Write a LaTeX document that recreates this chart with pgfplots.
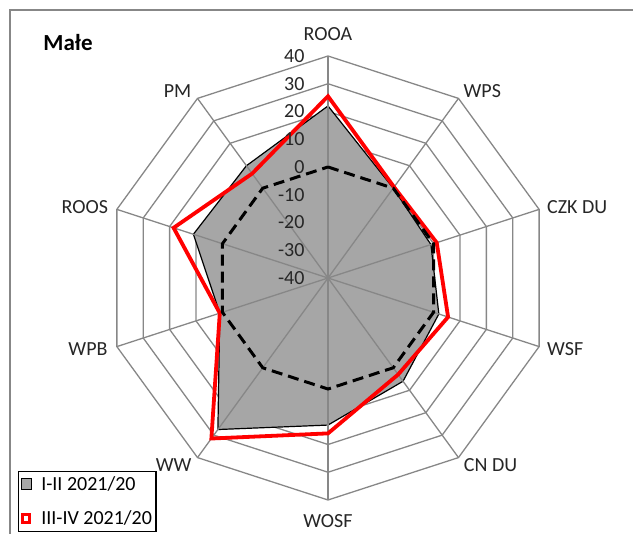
\documentclass[border=0pt]{standalone}
\usepackage{pgfplots}
\pgfplotsset{compat=1.18}
\usepackage{pgfplotstable}
\usepackage{fontspec}
\setmainfont{Carlito}
\definecolor{gridc}{HTML}{878787}
\definecolor{fillc}{HTML}{A6A6A6}
\definecolor{exred}{HTML}{FF0000}

% spoke angle, I-II 2021/20, III-IV 2021/20, reference line
\pgfplotstableread{
ang  g     r     z
90   22    25.5  0
54   0     0.5   0
18   -1    1.2   0
-18  2     5.5   0
-54  6     3     0
-90  13    16    0
-126 27.5  31.5  0
-162 1     1     0
162  11    18.5  0
126  10    6.5   0
}\radar

\begin{document}
\begin{tikzpicture}
\useasboundingbox (-328pt,-256pt) rectangle (305pt,278pt);
\clip (-328pt,-256pt) rectangle (305pt,278pt);
\draw[gridc, line width=1.3pt] (-318pt,-300pt) rectangle (400pt,268pt);
\begin{axis}[
  at={(0pt,0pt)}, anchor=center,
  x=2.775pt, y=2.775pt,
  xmin=-100, xmax=100, ymin=-100, ymax=100,
  hide axis, clip=false,
  font=\fontsize{20}{24}\selectfont,
  legend style={at={(axis description cs:-0.0585,0.1525)}, anchor=north west,
    draw=black, line width=1.3pt, fill=white, inner xsep=2pt, inner ysep=3pt,
    row sep=15pt, font=\fontsize{20}{24}\selectfont},
  legend cell align=left,
]
% rings
\pgfplotsinvokeforeach{10,20,30,40,50,60,70,80}{
  \draw[gridc, line width=1.3pt] (axis cs:{#1*cos(90)},{#1*sin(90)})
    \foreach \t in {54,18,-18,-54,-90,-126,-162,162,126} { -- (axis cs:{#1*cos(\t)},{#1*sin(\t)}) } -- cycle;
}
\addplot[fill=fillc, draw=black, line width=1.2pt,
  legend image code/.code={\draw[fill=fillc, draw=black, line width=1.2pt] (0pt,-5pt) rectangle (10pt,6pt);
    \path[draw=none, fill=none] (0pt,0pt) rectangle (18pt,0pt);}]
  table[x expr={(\thisrow{g}+40)*cos(\thisrow{ang})}, y expr={(\thisrow{g}+40)*sin(\thisrow{ang})}] {\radar} -- cycle;
\addlegendentry{I-II 2021/20}
% spokes
\pgfplotsinvokeforeach{90,54,18,-18,-54,-90,-126,-162,162,126}{
  \draw[gridc, line width=1.3pt] (axis cs:0,0) -- (axis cs:{80*cos(#1)},{80*sin(#1)});
}
\addplot[draw=exred, line width=3.8pt, line join=miter,
  legend image code/.code={\draw[fill=white, draw=exred, line width=3pt] (1.5pt,-3.5pt) rectangle (8.5pt,4.5pt);
    \path[draw=none, fill=none] (0pt,0pt) rectangle (18pt,0pt);}]
  table[x expr={(\thisrow{r}+40)*cos(\thisrow{ang})}, y expr={(\thisrow{r}+40)*sin(\thisrow{ang})}] {\radar} -- cycle;
\addlegendentry{III-IV 2021/20}
\addplot[draw=black, line width=3pt, dash pattern=on 11pt off 6pt, forget plot]
  table[x expr={(\thisrow{z}+40)*cos(\thisrow{ang})}, y expr={(\thisrow{z}+40)*sin(\thisrow{ang})}] {\radar} -- cycle;
% scale labels
\pgfplotsinvokeforeach{-40,-30,-20,-10,0,10,20,30,40}{
  \node[anchor=east, xshift=-20pt, text=black!85] at (axis cs:0,{#1+40}) {#1};
}
% category labels
\node[text=black!85] at (axis cs:0,87.9) {ROOA};
\node[text=black!85] at (axis cs:55.6,67.3) {WPS};
\node[text=black!85] at (axis cs:89.8,25.7) {CZK DU};
\node[text=black!85] at (axis cs:85.5,-25.6) {WSF};
\node[text=black!85] at (axis cs:58.6,-67.4) {CN DU};
\node[text=black!85] at (axis cs:0,-87.6) {WOSF};
\node[text=black!85] at (axis cs:-55.6,-67.4) {WW};
\node[text=black!85] at (axis cs:-86.5,-25.6) {WPB};
\node[text=black!85] at (axis cs:-87.6,25.7) {ROOS};
\node[text=black!85] at (axis cs:-54.2,67.3) {PM};
\node[anchor=west, font=\bfseries\fontsize{23}{26}\selectfont] at (axis cs:-103.8,84.7) {Małe};
\end{axis}
\end{tikzpicture}
\end{document}
